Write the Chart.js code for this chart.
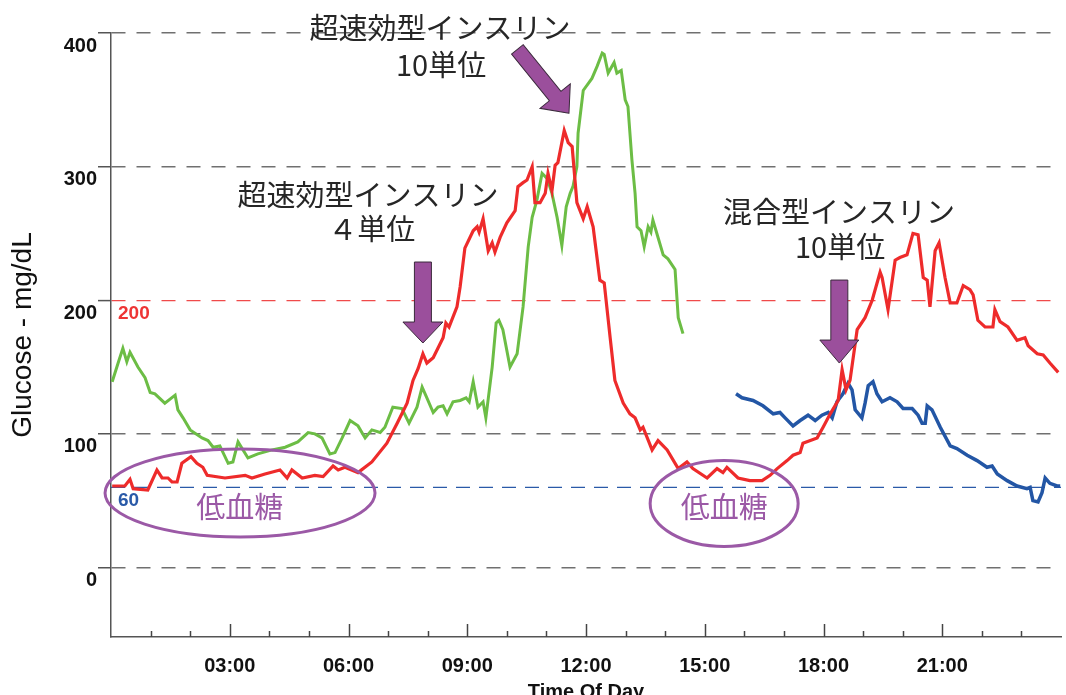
<!DOCTYPE html>
<html lang="ja">
<head>
<meta charset="utf-8">
<title>Glucose - Time Of Day</title>
<script src="https://cdn.jsdelivr.net/npm/chart.js@4.4.1/dist/chart.umd.min.js"></script>
<style>
  html, body { margin: 0; padding: 0; background: #fff; }
  #wrap { width: 1066px; height: 695px; }
</style>
</head>
<body>
<div id="wrap"><canvas id="glucoseChart"></canvas></div>
<script>
// values: hours since midnight, glucose in mg/dL
const redHours = [0.03, 0.35, 0.48, 0.56, 0.93, 1.16, 1.29, 1.44, 1.54, 1.67,
  1.79, 2.02, 2.17, 2.32, 2.43, 2.88, 3.39, 3.56, 3.89, 4.27,
  4.45, 4.57, 4.83, 5.15, 5.36, 5.61, 5.74, 5.91, 6.24, 6.59,
  6.97, 7.23, 7.48, 7.63, 7.76, 7.88, 7.98, 8.14, 8.39, 8.46,
  8.54, 8.74, 8.82, 8.94, 9.15, 9.25, 9.30, 9.40, 9.53, 9.63,
  9.70, 9.83, 10.00, 10.21, 10.28, 10.41, 10.51, 10.64, 10.71, 10.84,
  10.97, 11.04, 11.14, 11.22, 11.29, 11.45, 11.55, 11.65, 11.77, 11.93,
  12.03, 12.18, 12.35, 12.46, 12.61, 12.73, 12.94, 13.11, 13.24, 13.37,
  13.44, 13.67, 13.82, 14.05, 14.33, 14.55, 14.70, 15.06, 15.31, 15.46,
  15.56, 15.84, 16.14, 16.45, 16.65, 16.83, 17.08, 17.23, 17.41, 17.48,
  17.84, 17.99, 18.17, 18.37, 18.47, 18.57, 18.67, 18.85, 19.05, 19.23,
  19.43, 19.48, 19.63, 19.81, 19.93, 20.11, 20.26, 20.39, 20.52, 20.62,
  20.69, 20.82, 20.92, 21.07, 21.20, 21.37, 21.53, 21.70, 21.78, 21.90,
  22.08, 22.28, 22.33, 22.46, 22.66, 22.89, 23.09, 23.17, 23.40, 23.55,
  23.72, 23.93];
const redGlucose = [61, 61, 66, 59, 58, 73, 67, 67, 64, 64,
  78, 83, 78, 75, 69, 67, 69, 67, 70, 73,
  67, 73, 67, 69, 68, 76, 73, 75, 71, 79,
  93, 108, 123, 140, 149, 160, 153, 157, 172, 183,
  180, 195, 210, 239, 252, 255, 251, 261, 237, 243,
  236, 247, 258, 267, 285, 288, 290, 300, 273, 273,
  280, 295, 282, 301, 303, 327, 318, 315, 273, 261,
  270, 255, 215, 213, 172, 140, 123, 115, 112, 103,
  105, 88, 95, 88, 74, 79, 74, 67, 74, 71,
  75, 67, 65, 65, 69, 74, 80, 84, 86, 93,
  97, 105, 115, 125, 148, 133, 140, 178, 187, 200,
  221, 217, 193, 230, 232, 234, 250, 249, 217, 215,
  195, 237, 243, 217, 198, 198, 211, 208, 204, 185,
  180, 180, 193, 184, 180, 170, 172, 166, 160, 159,
  153, 146];

const greenHours = [0.03, 0.18, 0.30, 0.40, 0.48, 0.68, 0.86, 0.99, 1.11, 1.36,
  1.62, 1.69, 1.82, 2.00, 2.30, 2.45, 2.58, 2.75, 2.96, 3.08,
  3.21, 3.46, 3.71, 4.07, 4.40, 4.72, 4.98, 5.15, 5.33, 5.53,
  5.66, 5.84, 6.04, 6.24, 6.42, 6.59, 6.80, 6.92, 7.12, 7.35,
  7.53, 7.73, 7.86, 7.98, 8.14, 8.26, 8.39, 8.49, 8.64, 8.82,
  8.97, 9.05, 9.15, 9.27, 9.40, 9.47, 9.63, 9.73, 9.80, 9.90,
  10.08, 10.26, 10.41, 10.54, 10.64, 10.76, 10.89, 11.02, 11.14, 11.27,
  11.39, 11.50, 11.60, 11.67, 11.77, 11.80, 11.93, 12.15, 12.28, 12.41,
  12.46, 12.56, 12.71, 12.78, 12.89, 12.99, 13.06, 13.16, 13.24, 13.29,
  13.39, 13.47, 13.57, 13.64, 13.69, 13.82, 13.95, 14.07, 14.25, 14.33,
  14.45];
const greenGlucose = [139, 153, 164, 154, 161, 150, 142, 131, 130, 123,
  129, 118, 112, 103, 97, 95, 90, 91, 78, 79,
  94, 82, 85, 88, 90, 94, 101, 100, 97, 85,
  86, 97, 110, 106, 97, 103, 101, 105, 120, 119,
  108, 120, 135, 127, 116, 120, 121, 115, 124, 125,
  127, 124, 139, 120, 124, 112, 150, 183, 185, 178,
  150, 160, 195, 240, 262, 275, 295, 291, 280, 262,
  241, 270, 280, 285, 300, 325, 357, 366, 375, 385,
  384, 370, 378, 370, 372, 350, 345, 305, 280, 255,
  252, 240, 255, 251, 260, 247, 234, 231, 223, 187,
  175];

const blueHours = [15.79, 15.94, 16.22, 16.47, 16.73, 16.90, 17.03, 17.23, 17.41, 17.61,
  17.79, 17.96, 18.12, 18.22, 18.34, 18.49, 18.62, 18.72, 18.80, 18.97,
  19.05, 19.13, 19.25, 19.35, 19.48, 19.68, 19.86, 20.01, 20.24, 20.39,
  20.49, 20.57, 20.62, 20.74, 20.95, 21.20, 21.37, 21.63, 21.88, 22.13,
  22.26, 22.39, 22.64, 22.89, 23.14, 23.22, 23.29, 23.42, 23.52, 23.60,
  23.72, 23.90, 23.98];
const blueGlucose = [130, 127, 125, 121, 115, 116, 112, 106, 110, 114,
  110, 114, 116, 112, 124, 130, 138, 133, 118, 112,
  123, 136, 139, 130, 124, 127, 124, 119, 119, 114,
  108, 108, 121, 118, 105, 91, 89, 84, 80, 75,
  76, 70, 65, 61, 59, 60, 50, 49, 56, 67,
  63, 61, 61];

const yTickValues = [0, 100, 200, 300, 400];
const highLimit = 200;
const lowLimit = 60;

// annotations, anchored in data units (hour, mg/dL)
const noteTexts = ["超速効型インスリン", "10単位", "超速効型インスリン", "４単位", "混合型インスリン", "10単位"];
const noteHours = [8.31, 8.34, 6.49, 6.59, 18.39, 18.42];
const noteValues = [404, 376, 279, 253, 266, 240];
const arrowTipHours = [11.57, 7.88, 18.40];
const arrowTipValues = [340, 168, 153];
const arrowAngles = [51, 90, 90];
const hypoText = "低血糖";
const hypoHours = [3.26, 15.49];
const hypoValues = [55.8, 47.9];
const hypoTextHours = [3.25, 15.49];
const hypoTextValues = [45, 45];

function toPoints(hours, values) {
  return hours.map((h, i) => ({ x: h, y: values[i] }));
}

function drawArrow(ctx, tipX, tipY, angleDeg, len, shaftW, headLen, headW) {
  ctx.save();
  ctx.translate(tipX, tipY);
  ctx.rotate(angleDeg * Math.PI / 180);
  ctx.beginPath();
  ctx.moveTo(0, 0);
  ctx.lineTo(-headLen, headW / 2);
  ctx.lineTo(-headLen, shaftW / 2);
  ctx.lineTo(-len, shaftW / 2);
  ctx.lineTo(-len, -shaftW / 2);
  ctx.lineTo(-headLen, -shaftW / 2);
  ctx.lineTo(-headLen, -headW / 2);
  ctx.closePath();
  ctx.fillStyle = "#9b4f9c";
  ctx.fill();
  ctx.lineWidth = 1;
  ctx.strokeStyle = "#3b2a3c";
  ctx.stroke();
  ctx.restore();
}

const overlayPlugin = {
  id: "overlay",
  beforeDatasetsDraw(chart) {
    const { ctx, chartArea, scales } = chart;
    const y60 = scales.y.getPixelForValue(lowLimit);
    const y200 = scales.y.getPixelForValue(highLimit);
    ctx.save();
    ctx.setLineDash([14, 9]);
    ctx.lineWidth = 1.2;
    ctx.strokeStyle = "#2a5aa8";
    ctx.beginPath();
    ctx.moveTo(chartArea.left, y60);
    ctx.lineTo(chartArea.right, y60);
    ctx.stroke();
    ctx.setLineDash([]);
    ctx.font = "bold 19px 'Liberation Sans', Arial, sans-serif";
    ctx.textAlign = "left";
    ctx.textBaseline = "middle";
    ctx.fillStyle = "#ee3535";
    ctx.fillText(String(highLimit), chartArea.left + 7, y200 + 14);
    ctx.fillStyle = "#2a5aa8";
    ctx.fillText(String(lowLimit), chartArea.left + 7, y60 + 13);
    ctx.restore();
  },
  afterDraw(chart) {
    const { ctx, chartArea, scales } = chart;
    const x = scales.x, y = scales.y;
    ctx.save();

    // tick marks pointing into the plot
    ctx.strokeStyle = "#444";
    ctx.lineWidth = 1.5;
    x.ticks.forEach((t) => {
      if (t.value <= 0 || t.value >= 24) return;
      const px = Math.round(x.getPixelForValue(t.value)) + 0.5;
      const len = t.value % 3 === 0 ? 13 : 6;
      ctx.beginPath();
      ctx.moveTo(px, chartArea.bottom);
      ctx.lineTo(px, chartArea.bottom - len);
      ctx.stroke();
    });

    // hypoglycaemia ellipses
    const radii = [[135, 44], [74, 43]];
    ctx.strokeStyle = "#9b59a6";
    ctx.lineWidth = 3;
    hypoHours.forEach((h, i) => {
      ctx.beginPath();
      ctx.ellipse(x.getPixelForValue(h), y.getPixelForValue(hypoValues[i]), radii[i][0], radii[i][1], 0, 0, Math.PI * 2);
      ctx.stroke();
    });
    ctx.font = "29px 'Noto Sans CJK JP', sans-serif";
    ctx.textAlign = "center";
    ctx.textBaseline = "middle";
    ctx.fillStyle = "#9b59a6";
    hypoTextHours.forEach((h, i) => {
      ctx.fillText(hypoText, x.getPixelForValue(h), y.getPixelForValue(hypoTextValues[i]));
    });

    // insulin notes
    ctx.fillStyle = "#262626";
    noteTexts.forEach((txt, i) => {
      ctx.fillText(txt, x.getPixelForValue(noteHours[i]), y.getPixelForValue(noteValues[i]));
    });

    // arrows
    const sizes = [[82, 15, 22, 39], [81, 17, 21, 40], [83, 17, 23, 39]];
    arrowTipHours.forEach((h, i) => {
      const s = sizes[i];
      drawArrow(ctx, x.getPixelForValue(h), y.getPixelForValue(arrowTipValues[i]), arrowAngles[i], s[0], s[1], s[2], s[3]);
    });
    ctx.restore();
  },
};

Chart.defaults.font.family = "'Liberation Sans', Arial, sans-serif";
Chart.defaults.color = "#111";

const ctx = document.getElementById("glucoseChart").getContext("2d");
const glucoseChart = new Chart(ctx, {
  type: "line",
  data: {
    datasets: [
      {
        label: "Day 1",
        data: toPoints(redHours, redGlucose),
        borderColor: "#ee2b2b",
        borderWidth: 3.2,
      },
      {
        label: "Day 2",
        data: toPoints(greenHours, greenGlucose),
        borderColor: "#6cbd45",
        borderWidth: 3,
      },
      {
        label: "Day 3",
        data: toPoints(blueHours, blueGlucose),
        borderColor: "#2356a5",
        borderWidth: 3.5,
      },
    ],
  },
  options: {
    responsive: true,
    maintainAspectRatio: false,
    animation: false,
    layout: {
      padding: { top: 33, right: 5, bottom: 0, left: 0 },
    },
    elements: {
      point: { radius: 0 },
      line: { tension: 0, fill: false },
    },
    scales: {
      x: {
        type: "linear",
        min: 0,
        max: 24,
        afterFit: (scale) => {
          scale.height = 58;
          scale.paddingLeft = 0;
          scale.paddingRight = 0;
        },
        ticks: {
          stepSize: 1,
          autoSkip: false,
          maxRotation: 0,
          padding: 17,
          font: { size: 20, weight: "bold" },
          color: "#111",
          callback: (value) =>
            value % 3 === 0 && value > 0 && value < 24
              ? String(value).padStart(2, "0") + ":00"
              : "",
        },
        grid: { display: false, drawTicks: false },
        border: { display: true, color: "#555", width: 1.5 },
        title: {
          display: true,
          text: "Time Of Day",
          color: "#111",
          font: { size: 20, weight: "bold" },
          padding: { top: 0, bottom: -9 },
        },
      },
      y: {
        min: -52,
        max: 400,
        afterFit: (scale) => {
          scale.width = 111;
        },
        afterBuildTicks: (scale) => {
          scale.ticks = yTickValues.map((v) => ({ value: v }));
        },
        ticks: {
          padding: 1,
          labelOffset: 13,
          font: { size: 20, weight: "bold" },
          color: "#111",
        },
        grid: {
          color: (c) => (c.tick && c.tick.value === highLimit ? "#f04a4a" : "#707070"),
          lineWidth: (c) => (c.tick && c.tick.value === highLimit ? 1.2 : 1.5),
          tickLength: 13,
          tickColor: "#555",
          tickWidth: 1.5,
        },
        border: { display: true, color: "#555", width: 1.5, dash: [14, 11] },
        title: {
          display: true,
          text: "Glucose - mg/dL",
          color: "#111",
          font: { size: 28 },
          padding: { top: 6, bottom: 0 },
        },
      },
    },
    plugins: {
      legend: { display: false },
      tooltip: { enabled: false },
    },
  },
  plugins: [overlayPlugin],
});
</script>
</body>
</html>
